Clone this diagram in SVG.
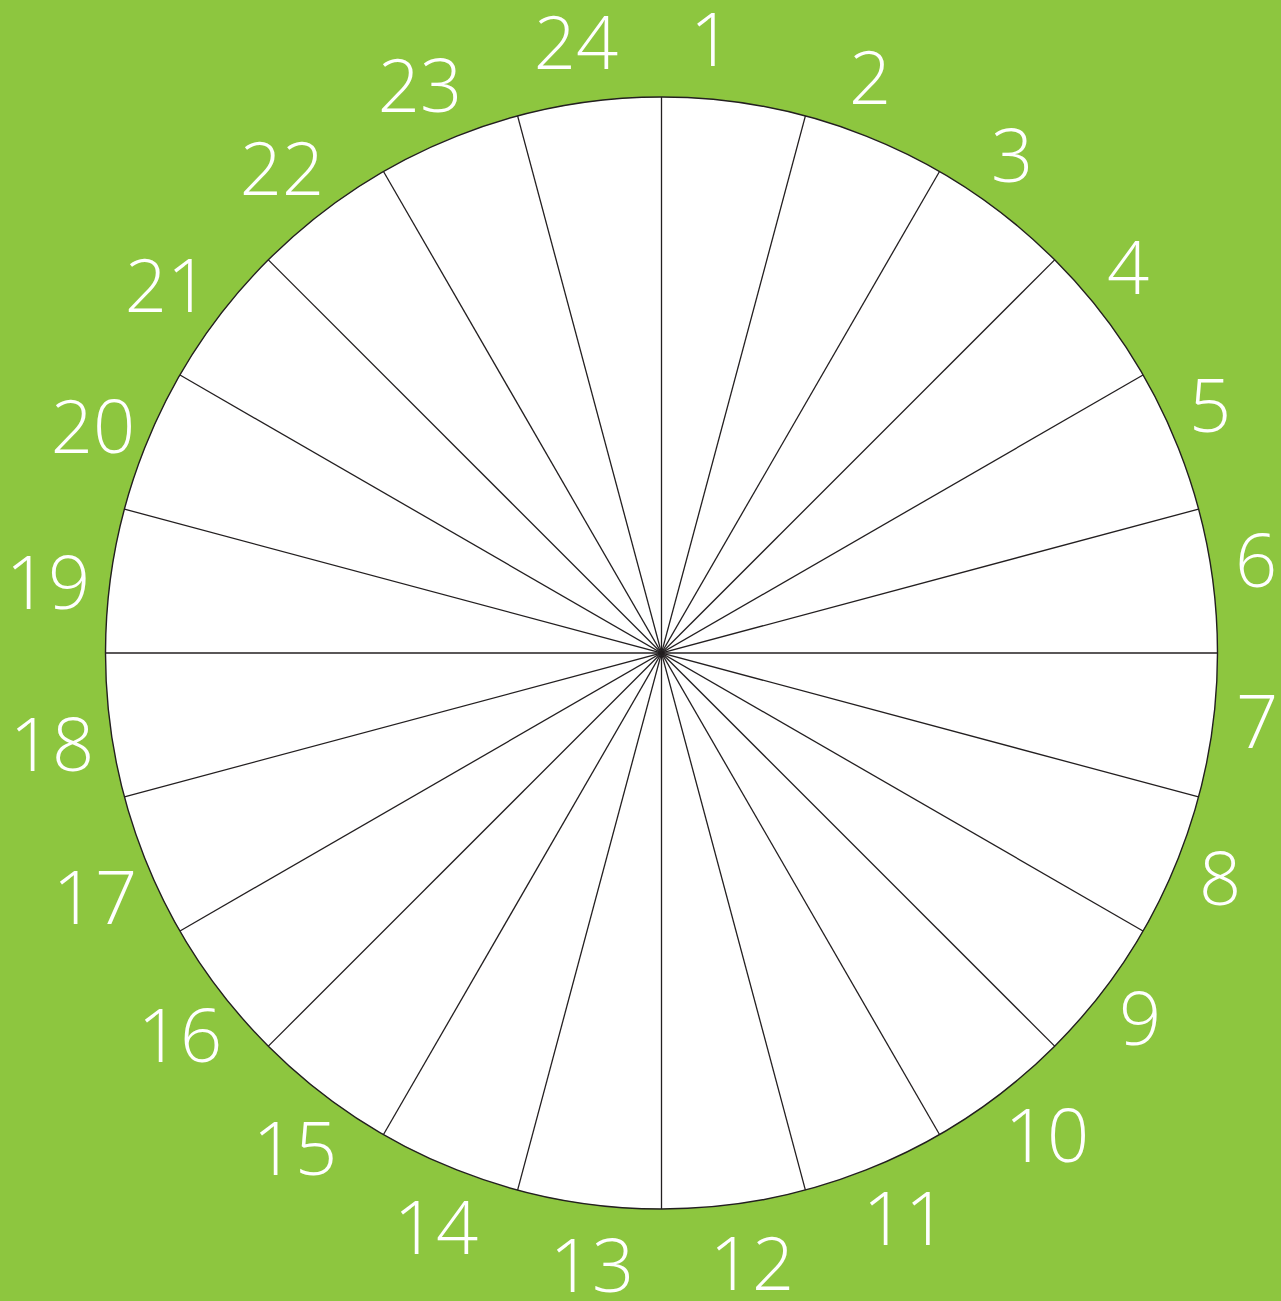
<svg xmlns="http://www.w3.org/2000/svg" width="1281" height="1301" viewBox="0 0 1281 1301">
<style>
.bg{fill:#8DC63F}
.disc{fill:#FFFFFF;stroke:#231F20;stroke-width:1.4}
.spoke{stroke:#231F20;stroke-width:1.3;fill:none}
.lbl{fill:#FFFFFF;font-family:"Open Sans","Liberation Sans",sans-serif;font-weight:300;font-size:74px;text-anchor:middle}
</style>
<rect class="bg" x="0" y="0" width="1281" height="1301"/>
<g id="wheel">
<circle class="disc" cx="661.5" cy="653" r="556"/>
</g>
<g id="connectors">
<line class="spoke" x1="661.5" y1="97" x2="661.5" y2="1209"/>
<line class="spoke" x1="805.4" y1="115.95" x2="517.6" y2="1190.05"/>
<line class="spoke" x1="939.5" y1="171.49" x2="383.5" y2="1134.51"/>
<line class="spoke" x1="1054.65" y1="259.85" x2="268.35" y2="1046.15"/>
<line class="spoke" x1="1143.01" y1="375" x2="179.99" y2="931"/>
<line class="spoke" x1="1198.55" y1="509.1" x2="124.45" y2="796.9"/>
<line class="spoke" x1="1217.5" y1="653" x2="105.5" y2="653"/>
<line class="spoke" x1="1198.55" y1="796.9" x2="124.45" y2="509.1"/>
<line class="spoke" x1="1143.01" y1="931" x2="179.99" y2="375"/>
<line class="spoke" x1="1054.65" y1="1046.15" x2="268.35" y2="259.85"/>
<line class="spoke" x1="939.5" y1="1134.51" x2="383.5" y2="171.49"/>
<line class="spoke" x1="805.4" y1="1190.05" x2="517.6" y2="115.95"/>
</g>
<g id="labels">
<g id="n1"><text class="lbl" x="711" y="66">1</text></g>
<g id="n2"><text class="lbl" x="870" y="104">2</text></g>
<g id="n3"><text class="lbl" x="1012" y="182">3</text></g>
<g id="n4"><text class="lbl" x="1128" y="294">4</text></g>
<g id="n5"><text class="lbl" x="1210" y="432">5</text></g>
<g id="n6"><text class="lbl" x="1256" y="587">6</text></g>
<g id="n7"><text class="lbl" x="1257" y="748">7</text></g>
<g id="n8"><text class="lbl" x="1220" y="905">8</text></g>
<g id="n9"><text class="lbl" x="1140" y="1045">9</text></g>
<g id="n10"><text class="lbl" x="1047" y="1162">10</text></g>
<g id="n11"><text class="lbl" x="905" y="1245">11</text></g>
<g id="n12"><text class="lbl" x="752" y="1290">12</text></g>
<g id="n13"><text class="lbl" x="592" y="1292">13</text></g>
<g id="n14"><text class="lbl" x="436" y="1254">14</text></g>
<g id="n15"><text class="lbl" x="295" y="1175">15</text></g>
<g id="n16"><text class="lbl" x="180" y="1062">16</text></g>
<g id="n17"><text class="lbl" x="95" y="924">17</text></g>
<g id="n18"><text class="lbl" x="52" y="771">18</text></g>
<g id="n19"><text class="lbl" x="48" y="609">19</text></g>
<g id="n20"><text class="lbl" x="93" y="453">20</text></g>
<g id="n21"><text class="lbl" x="167" y="312">21</text></g>
<g id="n22"><text class="lbl" x="282" y="195">22</text></g>
<g id="n23"><text class="lbl" x="420" y="112">23</text></g>
<g id="n24"><text class="lbl" x="576" y="69">24</text></g>
</g>
</svg>
